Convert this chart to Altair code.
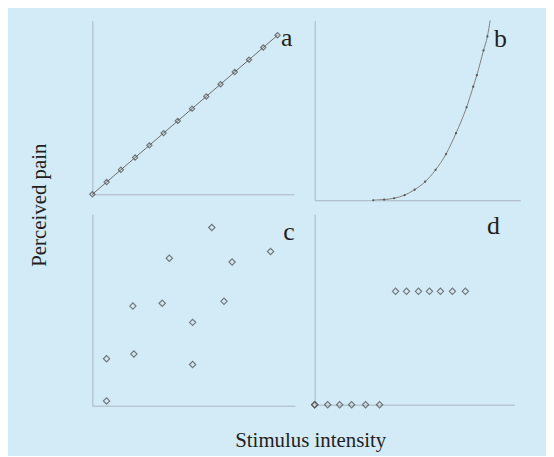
import altair as alt
import pandas as pd

# ---- data ----
a_x = [0, 1, 2, 3, 4, 5, 6, 7, 8, 9, 10, 11, 12, 13]
a_y = [0, 1, 2, 3, 4, 5, 6, 7, 8, 9, 10, 11, 12, 13]

b_x = [5.7, 6.76, 7.73, 8.76, 9.73, 10.75, 11.76, 12.78, 13.75, 14.78, 15.43, 15.78, 16.43, 16.81]
b_y = [0, 0.4, 1.1, 2.9, 5.9, 10.3, 16.9, 25.7, 37.3, 51.7, 63.2, 69.6, 83.4, 91.2]
b_line_x = b_x + [17.1]
b_line_y = b_y + [101]

c_x = [1.4, 1.4, 4.1, 4.0, 6.9, 7.6, 9.9, 9.9, 11.8, 13.0, 13.8, 17.6]
c_y = [0.5, 4.9, 5.4, 10.4, 10.7, 15.4, 8.7, 4.3, 18.6, 10.9, 15.0, 16.1]

d_x = [0, 0, 1.3, 2.5, 3.7, 5.1, 6.5, 8.1, 9.2, 10.4, 11.5, 12.6, 13.8, 15.1]
d_y = [0, 0, 0, 0, 0, 0, 0, 11.9, 11.9, 11.9, 11.9, 11.9, 11.9, 11.9]

panel_labels = ["a", "b", "c", "d"]
y_title = "Perceived pain"
x_title = "Stimulus intensity"

BG = "#d3eaf7"
AX = "#a9b5c1"
PT = "#4a4a4a"
TXT = "#231f20"
FONT = "Liberation Serif"

ax = alt.Axis(labels=False, ticks=False, grid=False, domainColor=AX, domainWidth=1)


def enc(dom_x, dom_y):
    return dict(
        x=alt.X("x:Q", scale=alt.Scale(domain=dom_x, nice=False, zero=False), axis=ax, title=None),
        y=alt.Y("y:Q", scale=alt.Scale(domain=dom_y, nice=False, zero=False), axis=ax, title=None),
    )


def label(txt, px, py):
    return alt.Chart(pd.DataFrame({"t": [txt]})).mark_text(
        font=FONT, fontSize=26, color=TXT, align="center", baseline="alphabetic"
    ).encode(text="t:N", x=alt.value(px), y=alt.value(py))


# panel a
da = pd.DataFrame({"x": a_x, "y": a_y})
ea = enc([0, 14.15], [0, 14.2])
pa = alt.Chart(da)
panel_a = alt.layer(
    pa.mark_line(color="#6b6b6b", strokeWidth=1).encode(**ea),
    pa.mark_point(shape="diamond", size=28, filled=False, color=PT, strokeWidth=1.2).encode(**ea),
    label(panel_labels[0], 195.7, 25.3),
    alt.Chart(pd.DataFrame({"t": [y_title]})).mark_text(
        font=FONT, fontSize=21, color=TXT, angle=270, align="center", baseline="middle"
    ).encode(text="t:N", x=alt.value(-53), y=alt.value(186)),
).properties(width=203, height=175)

# panel b
db_line = pd.DataFrame({"x": b_line_x, "y": b_line_y})
db = pd.DataFrame({"x": b_x, "y": b_y})
eb = enc([0, 20], [0, 100])
panel_b = alt.layer(
    alt.Chart(db_line).mark_line(color="#808080", strokeWidth=1, interpolate="monotone", clip=True).encode(**eb),
    alt.Chart(db).mark_point(shape="circle", size=5, filled=True, color="#555555", opacity=1).encode(**eb),
    label(panel_labels[1], 187, 27),
).properties(width=207, height=181)

# panel c
dc = pd.DataFrame({"x": c_x, "y": c_y})
ec = enc([0, 20], [0, 20])
panel_c = alt.layer(
    alt.Chart(dc).mark_point(shape="diamond", size=40, filled=False, color=PT, strokeWidth=1.2).encode(**ec),
    label(panel_labels[2], 198, 26.3),
    alt.Chart(pd.DataFrame({"t": [x_title]})).mark_text(
        font=FONT, fontSize=21, color=TXT, align="center", baseline="alphabetic"
    ).encode(text="t:N", x=alt.value(220), y=alt.value(235)),
).properties(width=204, height=193)

# panel d
dd = pd.DataFrame({"x": d_x, "y": d_y})
ed = enc([0, 20], [0, 20])
panel_d = alt.layer(
    alt.Chart(dd).mark_point(shape="diamond", size=40, filled=False, color=PT, strokeWidth=1.2).encode(**ed),
    label(panel_labels[3], 180, 20.3),
).properties(width=201, height=192)

chart = alt.concat(
    panel_a, panel_b, panel_c, panel_d,
    columns=2,
    spacing={"row": 14, "column": 20},
    bounds="flush",
    align="each",
).properties(
    background=BG,
    padding={"left": 20, "top": 10, "right": 25, "bottom": 2},
).configure_view(stroke="transparent")

chart.save("out.html", embed_options={"renderer": "svg", "actions": False})
